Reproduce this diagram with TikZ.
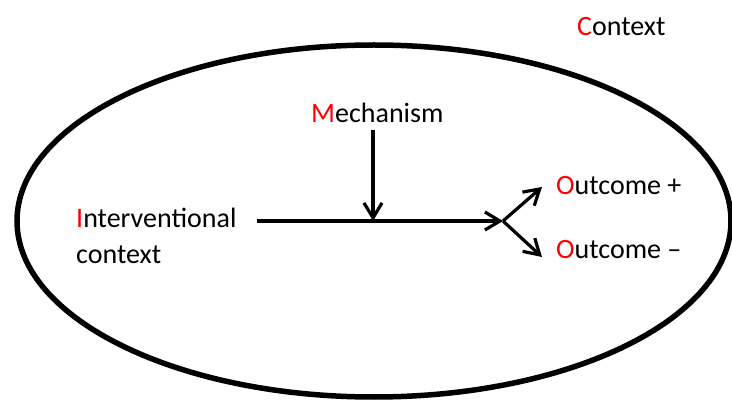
\documentclass[tikz,border=0pt]{standalone}
\usepackage{fontspec}
\setmainfont{Carlito}
\usetikzlibrary{arrows.meta,shapes.geometric}
\definecolor{keyred}{RGB}{255,0,0}
\tikzset{
  lbl/.style={anchor=base west, inner sep=0pt, font=\fontsize{28}{36}\selectfont},
  flow/.style={line width=3.2pt, -{Straight Barb[length=15pt,width=18pt,line width=3.2pt]}},
}
\newcommand{\initial}[1]{\textcolor{keyred}{#1}}
\begin{document}
\begin{tikzpicture}[x=1pt,y=-1pt]
  \useasboundingbox (0,0) rectangle (732,401);
  % the surrounding context
  \node[draw, ellipse, line width=5.5pt, inner sep=0pt,
        minimum width=714pt, minimum height=352pt] (ctx) at (374,221) {};
  \node[lbl] (ctxlbl) at (577,36) {\initial{C}ontext};
  % labels (a two-line node sits on the baseline of its last line)
  \node[lbl] (mech) at (311,123) {\initial{M}echanism};
  \node[lbl, align=left] (interv) at (76,264) {\initial{I}nterventional\\context};
  \node[lbl] (outp) at (556,195) {\initial{O}utcome +};
  \node[lbl] (outm) at (556,259) {\initial{O}utcome –};
  % connector points
  \coordinate (start) at (257,221);
  \coordinate (join) at (373,221);
  \coordinate (fork) at (503,221);
  \coordinate (tipp) at (542,187);
  \coordinate (tipm) at (542,257);
  \coordinate (mechfoot) at (373,130);
  % connectors
  \draw[flow] (start) -- (fork);
  \draw[flow] (mechfoot) -- (join);
  \draw[flow] (fork) -- (tipp);
  \draw[flow] (fork) -- (tipm);
\end{tikzpicture}
\end{document}
